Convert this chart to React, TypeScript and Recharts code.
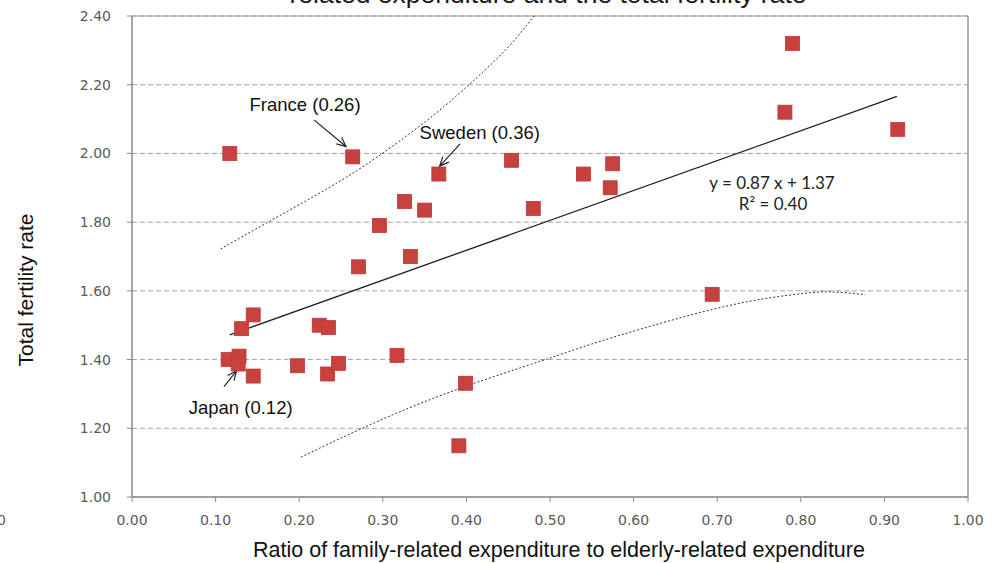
import {
  ComposedChart,
  Scatter,
  Line,
  XAxis,
  YAxis,
  CartesianGrid,
  ReferenceLine,
  ReferenceDot,
} from 'recharts'

// axis ticks
const xTicks = [0, 0.1, 0.2, 0.3, 0.4, 0.5, 0.6, 0.7, 0.8, 0.9, 1.0]
const yTicks = [1.0, 1.2, 1.4, 1.6, 1.8, 2.0, 2.2, 2.4]

// countries: ratio of family-related to elderly-related expenditure vs total fertility rate
const ratio = [
  0.117, 0.264, 0.367, 0.454, 0.54, 0.575, 0.572, 0.48, 0.326, 0.35, 0.296,
  0.333, 0.271, 0.781, 0.79, 0.916, 0.694, 0.145, 0.131, 0.115, 0.128, 0.127,
  0.145, 0.198, 0.224, 0.235, 0.234, 0.247, 0.317, 0.399, 0.391,
]
const fertility = [
  2.0, 1.99, 1.94, 1.98, 1.94, 1.97, 1.9, 1.84, 1.86, 1.835, 1.79,
  1.7, 1.67, 2.12, 2.32, 2.07, 1.59, 1.53, 1.49, 1.4, 1.41, 1.387,
  1.352, 1.382, 1.5, 1.493, 1.358, 1.389, 1.412, 1.331, 1.149,
]

// linear trend (y = 0.87x + 1.37), end points
const trendX = [0.117, 0.915]
const trendY = [1.472, 2.166]

// dotted curves
const upperX = [0.106, 0.162, 0.234, 0.2935, 0.361, 0.413, 0.449, 0.481]
const upperY = [1.722, 1.799, 1.898, 1.99, 2.112, 2.222, 2.307, 2.4]
const lowerX = [0.202, 0.2975, 0.399, 0.497, 0.56, 0.696, 0.791, 0.835, 0.877]
const lowerY = [1.116, 1.224, 1.322, 1.402, 1.453, 1.547, 1.589, 1.597, 1.589]

// annotations
const noteText = ['France (0.26)', 'Sweden (0.36)', 'Japan (0.12)']
const noteX = [0.207, 0.416, 0.130]
const noteY = [2.141, 2.062, 1.261]
const arrowFromX = [0.218, 0.3925, 0.110]
const arrowFromY = [2.097, 2.028, 1.321]
const arrowToX = [0.256, 0.368, 0.125]
const arrowToY = [2.02, 1.963, 1.367]

const points = ratio.map((x, i) => ({ x, y: fertility[i] }))
const trend = trendX.map((x, i) => ({ x, y: trendY[i] }))
const upper = upperX.map((x, i) => ({ x, y: upperY[i] }))
const lower = lowerX.map((x, i) => ({ x, y: lowerY[i] }))

const tickStyle = { fontFamily: 'DejaVu Sans', fontSize: 14, fill: '#5a5a5a' }
const axisColor = '#8a8a8a'

const Square = (props: any) => {
  const { cx, cy } = props
  if (cx == null || cy == null) return null
  return (
    <rect x={cx - 7} y={cy - 7} width={14} height={14} fill="#c8413e" stroke="#b83a37" strokeWidth={0.8} />
  )
}

const Arrow = (props: any) => {
  const { x1, y1, x2, y2 } = props
  if ([x1, y1, x2, y2].some((v) => v == null || isNaN(v))) return null
  const a = Math.atan2(y2 - y1, x2 - x1)
  const len = 10
  const spread = 0.42
  const ax = x2 - len * Math.cos(a - spread)
  const ay = y2 - len * Math.sin(a - spread)
  const bx = x2 - len * Math.cos(a + spread)
  const by = y2 - len * Math.sin(a + spread)
  return (
    <g stroke="#222" strokeWidth={1.2} fill="none">
      <line x1={x1} y1={y1} x2={x2} y2={y2} />
      <polyline points={`${ax},${ay} ${x2},${y2} ${bx},${by}`} />
    </g>
  )
}

export default function App() {
  return (
    <div style={{ position: 'absolute', left: 0, top: 0, width: 996, height: 563, background: '#fff' }}>
      <ComposedChart width={996} height={563} margin={{ top: 16, right: 28, bottom: 0, left: 0 }}>
        <CartesianGrid vertical={false} stroke="#a0a0a0" strokeDasharray="5 3" />
        <XAxis
          type="number"
          dataKey="x"
          domain={[0, 1]}
          ticks={xTicks}
          allowDataOverflow
          height={66}
          tickFormatter={(v: number) => v.toFixed(2)}
          tick={tickStyle}
          tickSize={5}
          tickMargin={13}
          stroke={axisColor}
          axisLine={{ stroke: axisColor, strokeWidth: 1.3 }}
          tickLine={{ stroke: axisColor }}
        />
        <YAxis
          type="number"
          dataKey="y"
          domain={[1, 2.4]}
          ticks={yTicks}
          allowDataOverflow
          width={132}
          tickFormatter={(v: number) => v.toFixed(2)}
          tick={tickStyle}
          tickSize={5}
          tickMargin={16}
          stroke={axisColor}
          axisLine={{ stroke: axisColor, strokeWidth: 1.5 }}
          tickLine={{ stroke: axisColor }}
        />
        <ReferenceLine y={2.4} stroke="#9a9a9a" strokeWidth={1} />
        <ReferenceLine x={1} stroke="#9a9a9a" strokeWidth={1.5} />

        <Line
          data={upper}
          dataKey="y"
          type="natural"
          stroke="#333"
          strokeWidth={1}
          strokeDasharray="2 2"
          dot={false}
          activeDot={false}
          isAnimationActive={false}
        />
        <Line
          data={lower}
          dataKey="y"
          type="natural"
          stroke="#333"
          strokeWidth={1}
          strokeDasharray="2 2"
          dot={false}
          activeDot={false}
          isAnimationActive={false}
        />
        <Line
          data={trend}
          dataKey="y"
          type="linear"
          stroke="#1e1e1e"
          strokeWidth={1.3}
          dot={false}
          activeDot={false}
          isAnimationActive={false}
        />
        <Scatter data={points} dataKey="y" shape={<Square />} isAnimationActive={false} />

        {noteText.map((t, i) => (
          <ReferenceLine
            key={'arrow' + i}
            segment={[
              { x: arrowFromX[i], y: arrowFromY[i] },
              { x: arrowToX[i], y: arrowToY[i] },
            ]}
            shape={<Arrow />}
          />
        ))}
        {noteText.map((t, i) => (
          <ReferenceDot
            key={'note' + i}
            x={noteX[i]}
            y={noteY[i]}
            r={0}
            shape={(p: any) => (
              <text
                x={p.cx}
                y={p.cy}
                textAnchor="middle"
                dominantBaseline="central"
                fontFamily="Liberation Sans, Arial, sans-serif"
                fontSize={18.5}
                fill="#111"
              >
                {t}
              </text>
            )}
          />
        ))}
      </ComposedChart>

      <svg
        width={996}
        height={563}
        style={{ position: 'absolute', left: 0, top: 0, pointerEvents: 'none' }}
      >
        <text x={548} y={3} textAnchor="middle" fontFamily="Liberation Sans, Arial, sans-serif" fontSize={26.5} fill="#1a1a1a">
          related expenditure and the total fertility rate
        </text>
        <text x={772} y={189} textAnchor="middle" fontFamily="Lato, 'Open Sans', sans-serif" fontSize={17} fill="#222">
          y = 0.87 x + 1.37
        </text>
        <text x={773} y={210} textAnchor="middle" fontFamily="Lato, 'Open Sans', sans-serif" fontSize={17} fill="#222">
          R² = 0.40
        </text>
        <text
          x={33}
          y={290}
          transform="rotate(-90 33 290)"
          textAnchor="middle"
          fontFamily="Liberation Sans, Arial, sans-serif"
          fontSize={21}
          fill="#111"
        >
          Total fertility rate
        </text>
        <text x={559} y={557} textAnchor="middle" fontFamily="Liberation Sans, Arial, sans-serif" fontSize={21.5} fill="#111">
          Ratio of family-related expenditure to elderly-related expenditure
        </text>
        <text x={-3} y={525} fontFamily="DejaVu Sans" fontSize={14} fill="#5a5a5a">
          0
        </text>
      </svg>
    </div>
  )
}
